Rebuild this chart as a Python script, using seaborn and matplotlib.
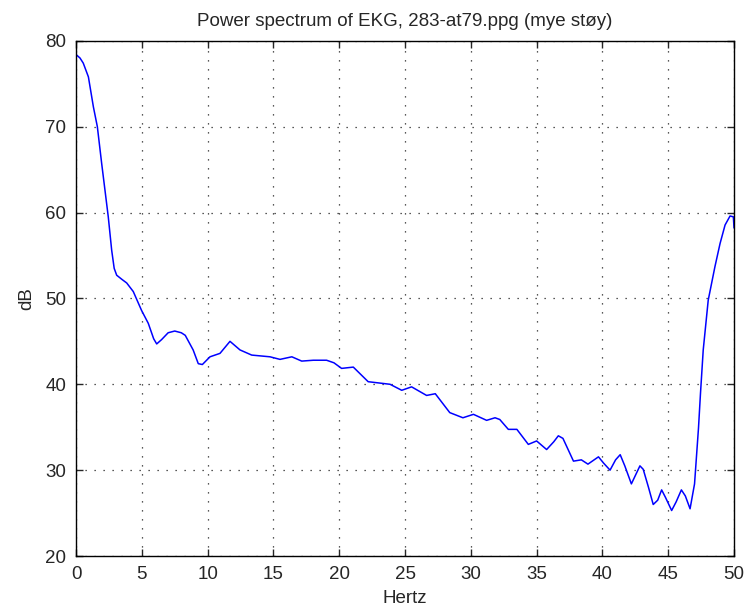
import pandas as pd
import matplotlib
matplotlib.use("Agg")
import matplotlib.pyplot as plt
import seaborn as sns

# Frequencies (Hz) and power (dB)
freq = [0.0, 0.3, 0.55, 0.94, 1.32, 1.62, 1.95, 2.2, 2.45, 2.71, 2.9, 3.09, 3.5, 3.85,
        4.35, 4.98, 5.49, 5.9, 6.13, 6.5, 7.0, 7.5, 8.0, 8.3, 8.9, 9.29, 9.6, 10.18, 10.94,
        11.7, 12.46, 13.35, 14.74, 15.5, 16.4, 17.15, 18.03, 19.04, 19.6, 20.18, 21.07,
        22.2, 23.86, 24.75, 25.5, 26.64, 27.3, 28.4, 29.4, 30.2, 31.2, 31.84, 32.2, 32.85,
        33.5, 34.37, 35.0, 35.76, 36.3, 36.65, 37.0, 37.8, 38.4, 38.9, 39.7, 40.1, 40.58,
        41.0, 41.35, 41.7, 42.2, 42.85, 43.1, 43.5, 43.86, 44.2, 44.5, 44.8, 45.26, 45.6,
        46.0, 46.3, 46.66, 47.0, 47.3, 47.45, 47.66, 48.04, 48.55, 48.94, 49.32, 49.7,
        49.95, 50.0]
db = [78.4, 78.0, 77.4, 75.8, 72.3, 70.0, 65.7, 62.6, 59.5, 55.6, 53.5, 52.7, 52.2, 51.8,
      50.8, 48.6, 47.1, 45.3, 44.7, 45.2, 46.0, 46.2, 46.0, 45.7, 44.0, 42.4, 42.3, 43.2, 43.6,
      45.0, 44.0, 43.4, 43.2, 42.9, 43.2, 42.7, 42.8, 42.8, 42.5, 41.85, 42.0,
      40.3, 40.0, 39.3, 39.7, 38.7, 38.9, 36.7, 36.1, 36.5, 35.8, 36.1, 35.9, 34.75,
      34.75, 33.0, 33.4, 32.4, 33.3, 34.0, 33.7, 31.05, 31.2, 30.7, 31.55, 30.8, 30.0,
      31.2, 31.8, 30.5, 28.4, 30.5, 30.1, 28.0, 26.0, 26.5, 27.7, 26.8, 25.3, 26.3,
      27.7, 27.0, 25.5, 28.4, 34.9, 38.9, 44.0, 49.8, 53.7, 56.4, 58.55, 59.6,
      59.5, 58.2]

df = pd.DataFrame({"Hertz": freq, "dB": db})

sns.set_style("white")
plt.rcParams["font.family"] = ["Liberation Sans", "DejaVu Sans"]

fig = plt.figure(figsize=(7.49, 6.09), dpi=100)
ax = fig.add_axes([0.1015, 0.087, 0.8785, 0.846])
sns.lineplot(data=df, x="Hertz", y="dB", color="#0000ff", linewidth=1.1, ax=ax,
             sort=False, estimator=None)

ax.set_xlim(0, 50)
ax.set_ylim(20, 80)
ax.set_xticks(range(0, 51, 5))
ax.set_yticks(range(20, 81, 10))
ax.grid(True, color="#222222", linestyle=(0, (1, 6.2)), linewidth=0.9)
for s in ax.spines.values():
    s.set_color("black")
    s.set_linewidth(1.0)
ax.tick_params(direction="in", length=5, width=1, labelsize=13.5, pad=7,
               top=True, right=True, bottom=True, left=True,
               labeltop=False, labelright=False)
ax.set_title("Power spectrum of EKG, 283-at79.ppg (mye støy)", fontsize=13.5, pad=11)
ax.set_xlabel("Hertz", fontsize=13.5, labelpad=5)
ax.set_ylabel("dB", fontsize=13.5, labelpad=7)

fig.savefig("out.png", dpi=100)
